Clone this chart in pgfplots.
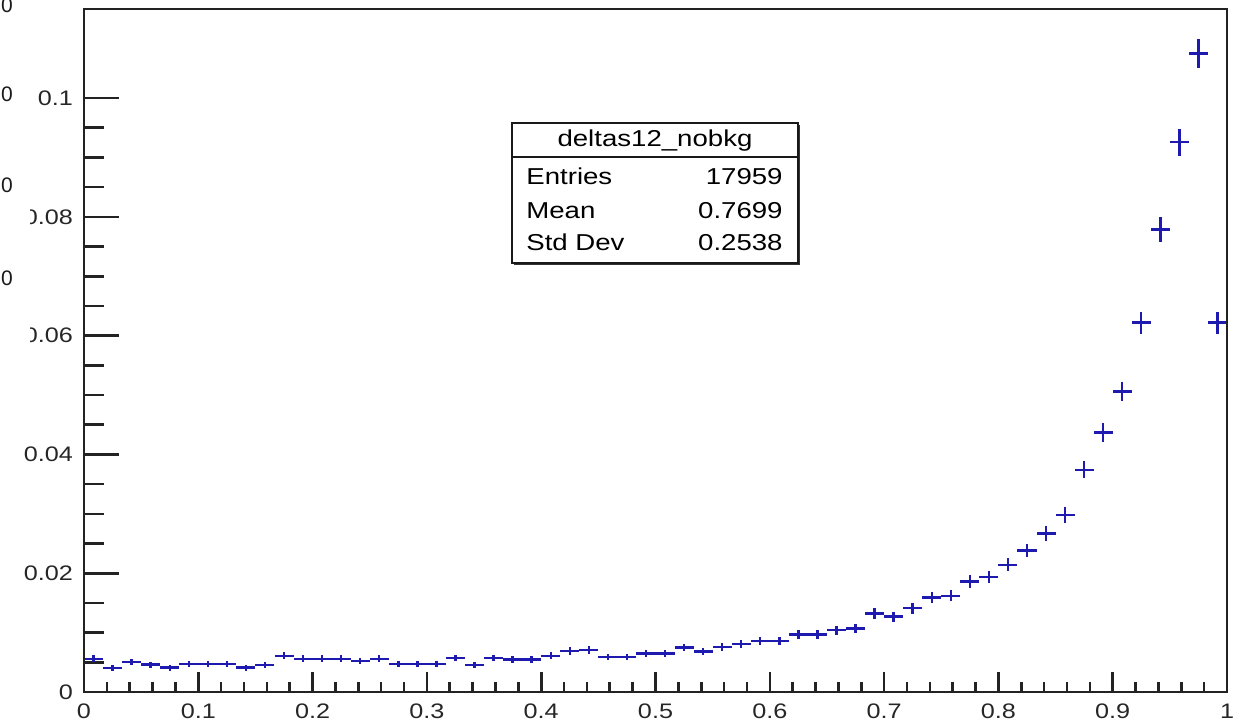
\documentclass[border=0pt]{standalone}
\usepackage{fontspec}
\setmainfont{Liberation Sans}
\usepackage{graphicx}
\usepackage{pgfplots}
\pgfplotsset{compat=1.18}
\usepackage{pgfplotstable}

\definecolor{hblue}{RGB}{30,25,175}
\definecolor{framegray}{RGB}{35,35,35}

% 60 bins on [0,1]: bin centre, normalised content, statistical error
\pgfplotstableread{
x        y       ey
0.00833  0.0056  0.00056
0.02500  0.0040  0.00047
0.04167  0.0051  0.00053
0.05833  0.0046  0.00051
0.07500  0.0041  0.00048
0.09167  0.0047  0.00051
0.10833  0.0047  0.00051
0.12500  0.0047  0.00051
0.14167  0.0041  0.00048
0.15833  0.0045  0.00050
0.17500  0.0061  0.00058
0.19167  0.0056  0.00056
0.20833  0.0056  0.00056
0.22500  0.0056  0.00056
0.24167  0.0052  0.00054
0.25833  0.0056  0.00056
0.27500  0.0047  0.00051
0.29167  0.0047  0.00051
0.30833  0.0047  0.00051
0.32500  0.0057  0.00056
0.34167  0.0045  0.00050
0.35833  0.0057  0.00056
0.37500  0.0055  0.00055
0.39167  0.0055  0.00055
0.40833  0.0061  0.00058
0.42500  0.0069  0.00062
0.44167  0.0071  0.00063
0.45833  0.0059  0.00057
0.47500  0.0059  0.00057
0.49167  0.0065  0.00060
0.50833  0.0065  0.00060
0.52500  0.0075  0.00065
0.54167  0.0068  0.00062
0.55833  0.0076  0.00065
0.57500  0.0081  0.00067
0.59167  0.0086  0.00069
0.60833  0.0086  0.00069
0.62500  0.0097  0.00073
0.64167  0.0097  0.00073
0.65833  0.0104  0.00076
0.67500  0.0107  0.00077
0.69167  0.0132  0.00086
0.70833  0.0127  0.00084
0.72500  0.0141  0.00089
0.74167  0.0159  0.00094
0.75833  0.0162  0.00095
0.77500  0.0186  0.00102
0.79167  0.0194  0.00104
0.80833  0.0214  0.00109
0.82500  0.0238  0.00115
0.84167  0.0267  0.00122
0.85833  0.0298  0.00129
0.87500  0.0374  0.00144
0.89167  0.0437  0.00156
0.90833  0.0506  0.00168
0.92500  0.0622  0.00186
0.94167  0.0779  0.00208
0.95833  0.0926  0.00227
0.97500  0.1075  0.00245
0.99167  0.0622  0.00186
}\histdata

\begin{document}
\begin{tikzpicture}
\pgfplotsset{
  rootframe/.style={
    width=571.5pt, height=341.5pt, scale only axis,
    at={(0,0)}, anchor=south west,
    xmin=0, xmax=1, ymin=0, ymax=0.115,
    axis line style={framegray, line width=1.4pt},
    tick style={framegray, line width=1.3pt},
    tick align=inside,
    xtick pos=bottom, ytick pos=left,
    ticklabel style={font=\fontsize{10.5}{12}\selectfont, text=black!85},
    /pgf/number format/assume math mode=true,
  }
}

% y axis ticks, labels and the histogram
\begin{axis}[rootframe,
    xtick=\empty,
    ytick={0,0.02,0.04,0.06,0.08,0.1},
    minor y tick num=3,
    major tick length=17.5pt, minor tick length=10pt,
    yticklabel={\scalebox{1.2}[1]{\pgfmathprintnumber[fixed,precision=2]{\tick}}},
    yticklabel style={xshift=-2pt},
    clip=false]
  \addplot[draw=none, mark=none,
    error bars/.cd,
      x dir=both, x fixed=0.008333,
      y dir=both, y explicit,
      error mark=none,
      error bar style={draw=hblue, line width=1.2pt}]
    table[x=x, y=y, y error=ey] {\histdata};
\end{axis}

% x axis ticks and labels
\begin{axis}[rootframe,
    ytick=\empty,
    xtick={0,0.1,0.2,0.3,0.4,0.5,0.6,0.7,0.8,0.9,1},
    minor x tick num=4,
    major tick length=10pt, minor tick length=5pt,
    xticklabel={\scalebox{1.2}[1]{\pgfmathprintnumber[fixed,precision=1]{\tick}}},
    xticklabel style={yshift=-2.5pt}]
\end{axis}

% statistics box
\fill[black!80] (215pt,213.5pt) rectangle (358pt,283.5pt);
\filldraw[fill=white, draw=black!90, line width=0.9pt] (214pt,214.5pt) rectangle (357pt,284.5pt);
\draw[black!90, line width=0.9pt] (214pt,267.5pt) -- (357pt,267.5pt);
\begin{scope}[every node/.style={inner sep=0pt, font=\fontsize{11.5}{13}\selectfont}]
  \node[anchor=base] at (285.5pt,272.6pt) {\scalebox{1.2}[1]{deltas12\_nobkg}};
  \node[anchor=base west] at (221pt,253.8pt) {\scalebox{1.2}[1]{Entries}};
  \node[anchor=base east] at (349.5pt,253.8pt) {\scalebox{1.2}[1]{17959}};
  \node[anchor=base west] at (221pt,236.8pt) {\scalebox{1.2}[1]{Mean}};
  \node[anchor=base east] at (349.5pt,236.8pt) {\scalebox{1.2}[1]{0.7699}};
  \node[anchor=base west] at (221pt,220.8pt) {\scalebox{1.2}[1]{Std Dev}};
  \node[anchor=base east] at (349.5pt,220.8pt) {\scalebox{1.2}[1]{0.2538}};
\end{scope}

% neighbouring panel edge on the left
\fill[white] (-35pt,150pt) rectangle (-27pt,272pt);
\begin{scope}[every node/.style={inner sep=0pt, font=\fontsize{10.5}{12}\selectfont, text=black!90}]
  \node at (-38.5pt,343.5pt) {0};
  \node at (-38.5pt,299pt) {0};
  \node at (-38.5pt,253.5pt) {0};
  \node at (-38.5pt,207pt) {0};
  \node at (-44.5pt,163.5pt) {0};
\end{scope}

\pgfresetboundingbox
\useasboundingbox (-42pt,-16pt) rectangle (576.5pt,346pt);
\end{tikzpicture}
\end{document}
